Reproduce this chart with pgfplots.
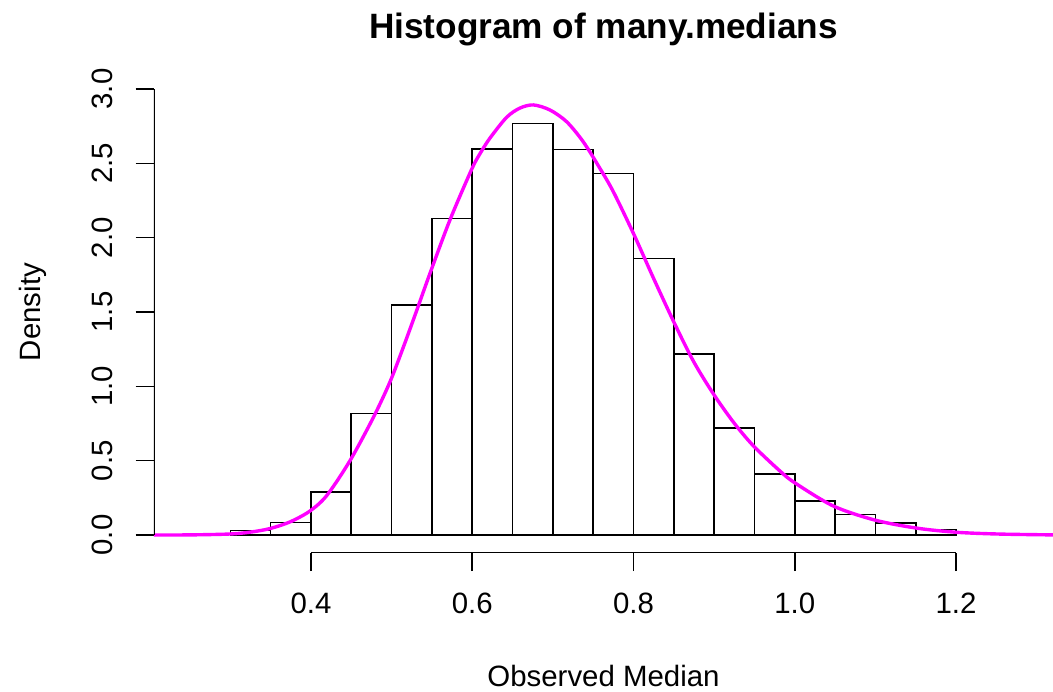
\documentclass[border=0pt]{standalone}
\usepackage{pgfplots}
\pgfplotsset{compat=1.18}
\usepackage{fontspec}
\setmainfont{Liberation Sans}
\definecolor{rmagenta}{RGB}{255,0,255}
\begin{document}
\begin{tikzpicture}
\useasboundingbox (-77pt,-69.1pt) rectangle (449.5pt,276.4pt);
\begin{axis}[
  at={(0,0)}, anchor=south west,
  scale only axis,
  width=449.5pt, height=240.8pt,
  xmin=0.2053, xmax=1.3203,
  ymin=-0.12, ymax=3.12,
  axis line style={draw=none},
  tick align=outside,
  major tick length=9.15pt,
  tick style={black, line width=0.8pt},
  xtick={0.4,0.6,0.8,1.0,1.2},
  ytick={0,0.5,1,1.5,2,2.5,3},
  xtick pos=bottom, ytick pos=left,
  /pgf/number format/assume math mode=true,
  /pgf/number format/.cd, fixed, fixed zerofill, precision=1, /pgfplots/.cd,
  ticklabel style={font=\fontsize{14.7}{17}\selectfont},
  xticklabel style={yshift=-7.5pt},
  yticklabel style={xshift=-8pt, rotate=90, anchor=south},
  title={\textbf{Histogram of many.medians}},
  title style={font=\fontsize{17.6}{20}\selectfont, at={(axis description cs:0.5,1)}, anchor=center, yshift=14.75pt},
  xlabel={Observed Median},
  xlabel style={font=\fontsize{14.7}{17}\selectfont, inner sep=0pt, at={(axis description cs:0.5,0)}, anchor=center, yshift=-61.6pt},
  ylabel={Density},
  ylabel style={font=\fontsize{14.7}{17}\selectfont, inner sep=0pt, at={(axis description cs:0,0.5)}, anchor=center, yshift=60.6pt},
  clip=true,
]
\addplot[ybar interval, draw=black, fill=white, line width=0.8pt] coordinates {
(0.30,0.029) (0.35,0.085) (0.40,0.291) (0.45,0.818) (0.50,1.547)
(0.55,2.130) (0.60,2.598) (0.65,2.769) (0.70,2.592) (0.75,2.433)
(0.80,1.859) (0.85,1.217) (0.90,0.718) (0.95,0.410) (1.00,0.229)
(1.05,0.139) (1.10,0.079) (1.15,0.038) (1.20,0)
};
\addplot[smooth, no marks, color=rmagenta, line width=1.7pt] coordinates {
(0.2053,0) (0.2500,0.0005) (0.2974,0.006) (0.3233,0.018) (0.3483,0.042)
(0.3740,0.088) (0.3984,0.16) (0.4195,0.265) (0.4484,0.50) (0.4773,0.79)
(0.4980,1.03) (0.5150,1.27) (0.5311,1.51) (0.5476,1.76) (0.5724,2.12)
(0.5993,2.46) (0.6096,2.565) (0.6220,2.67) (0.6427,2.81) (0.6592,2.872)
(0.6759,2.893) (0.6964,2.859) (0.7171,2.78) (0.7377,2.645) (0.7584,2.466)
(0.7749,2.31) (0.7998,2.03) (0.8246,1.73) (0.8494,1.44) (0.8742,1.17)
(0.8990,0.95) (0.9238,0.76) (0.9486,0.60) (0.9817,0.43) (1.0003,0.35)
(1.0478,0.195) (1.0995,0.10) (1.1513,0.046) (1.2009,0.018) (1.2546,0.006)
(1.3203,0.0005)
};
\draw[line width=0.8pt] (axis cs:0.4,-0.12) -- (axis cs:1.2,-0.12);
\draw[line width=0.8pt] (axis cs:0.2053,0) -- (axis cs:0.2053,3);
\end{axis}
\end{tikzpicture}
\end{document}
